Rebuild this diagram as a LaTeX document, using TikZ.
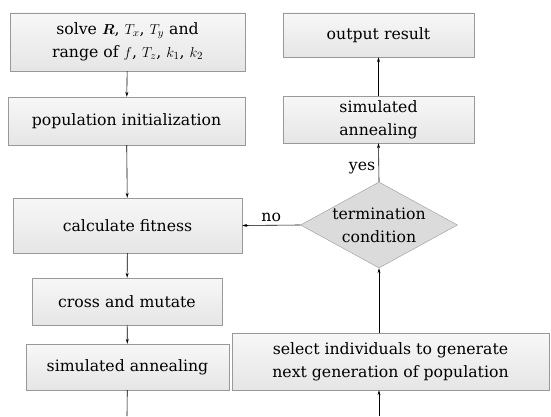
\documentclass[tikz,border=0pt]{standalone}
\usepackage{bm}
\usepackage{fontspec}
\setmainfont{DejaVu Serif}
\usetikzlibrary{shapes.geometric,arrows.meta,positioning}
\tikzset{box/.style={draw=black!40,top color=black!3,bottom color=black!10,inner sep=0pt,align=center,font=\fontsize{15.7}{23}\selectfont},
flow/.style={-{Stealth[length=5pt,width=3pt]},line width=0.6pt}}

\begin{document}
\begin{tikzpicture}[x=1pt,y=1pt]
\useasboundingbox (0,0) rectangle (551,416);

% left column
\node[box,minimum width=235,minimum height=58] (solve) at (127.5,374) {solve $\bm{R}$, $T_x$, $T_y$ and\\range of $f$, $T_z$, $k_1$, $k_2$};
\node[box,minimum width=237,minimum height=48] (init) at (126.5,295) {population initialization};
\node[box,minimum width=229,minimum height=55] (calc) at (127.5,190.5) {calculate fitness};
\node[box,minimum width=190,minimum height=47] (cross) at (127,114.5) {cross and mutate};
\node[box,minimum width=203,minimum height=46] (annealL) at (127.5,49) {simulated annealing};

% right column
\node[box,minimum width=317,minimum height=57] (select) at (390.5,54.5) {select individuals to generate\\next generation of population};
\node[shape=diamond,draw=black!40,fill=black!14,inner sep=0pt,minimum width=157,minimum height=86,
  label={[font=\fontsize{15.7}{23}\selectfont,align=center]center:termination\\condition}] (cond) at (379,191) {};
\node[box,minimum width=191,minimum height=47] (annealR) at (378.5,296.5) {simulated\\annealing};
\node[box,minimum width=191,minimum height=44] (output) at (378.5,381) {output result};

\coordinate (botL) at (127,0);
\coordinate (botR) at (379,0);

% connectors
\draw[flow] (solve) -- (init);
\draw[flow] (init) -- (calc);
\draw[flow] (calc) -- (cross);
\draw[flow] (cross) -- (annealL);
\draw[line width=0.6pt] (annealL) -- (botL);
\draw[flow] (botR) -- (select.south -| botR);
\draw[flow] (select.north -| cond.south) -- (cond.south);
\draw[flow] (cond.west) -- node[above,font=\fontsize{15.7}{23}\selectfont] {no} (calc.east);
\draw[flow] (cond.north) -- node[left,pos=0.35,font=\fontsize{15.7}{23}\selectfont] {yes} (annealR.south);
\draw[flow] (annealR) -- (output);
\end{tikzpicture}
\end{document}
